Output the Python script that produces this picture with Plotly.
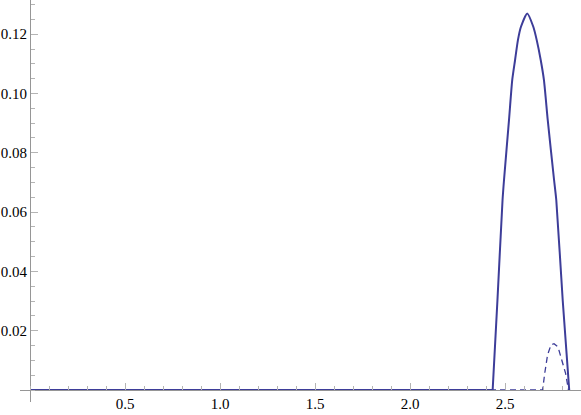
import plotly.graph_objects as go

# values
flat_x = [0.0, 2.435]
flat_y = [0.0, 0.0]

hump_x = [2.435, 2.460, 2.487, 2.495, 2.521, 2.538, 2.553, 2.568, 2.584, 2.617,
          2.649, 2.667, 2.688, 2.705, 2.725, 2.758, 2.770, 2.804, 2.838]
hump_y = [0.0, 0.030, 0.064, 0.071, 0.091, 0.1045, 0.1113, 0.118, 0.1225, 0.127,
          0.1225, 0.118, 0.1113, 0.1045, 0.091, 0.071, 0.064, 0.030, 0.0]

dashed_x = [0.0, 2.698, 2.709, 2.724, 2.742, 2.758, 2.779, 2.800, 2.819, 2.834]
dashed_y = [0.0, 0.0, 0.0056, 0.0118, 0.0152, 0.0156, 0.0145, 0.0101, 0.0056, 0.0]

x_ticks = [0.5, 1.0, 1.5, 2.0, 2.5]
x_labels = ["0.5", "1.0", "1.5", "2.0", "2.5"]
y_ticks = [0.02, 0.04, 0.06, 0.08, 0.10, 0.12]
y_labels = ["0.02", "0.04", "0.06", "0.08", "0.10", "0.12"]

line_color = "rgb(61,61,153)"
axis_color = "rgb(150,150,150)"
tick_color = "rgb(180,180,180)"
font = dict(family="Liberation Serif", size=15, color="black")

fig = go.Figure()
fig.add_trace(go.Scatter(x=dashed_x, y=dashed_y, mode="lines",
                         line=dict(color=line_color, width=1.3, dash="6px,4px")))
fig.add_trace(go.Scatter(x=flat_x, y=flat_y, mode="lines",
                         line=dict(color=line_color, width=2)))
fig.add_trace(go.Scatter(x=hump_x, y=hump_y, mode="lines",
                         line=dict(color=line_color, width=2, shape="spline", smoothing=0.6)))

x_min, x_max = -10 / 190, 551 / 190
y_min, y_max = -12 / 2965, 390 / 2965

fig.update_layout(
    width=581, height=415,
    margin=dict(l=20, r=0, t=0, b=13),
    paper_bgcolor="white", plot_bgcolor="white",
    showlegend=False,
    font=font,
    xaxis=dict(
        range=[x_min, x_max], anchor="free", position=12 / 402, automargin=False,
        showgrid=False, zeroline=False,
        showline=True, linecolor=axis_color, linewidth=1,
        tickmode="array", tickvals=x_ticks, ticktext=x_labels,
        ticks="inside", ticklen=7, tickcolor=tick_color, tickwidth=1,
        minor=dict(tick0=0, dtick=0.1, ticks="inside", ticklen=4,
                   tickcolor=tick_color, showgrid=False),
        tickfont=font,
    ),
    yaxis=dict(
        range=[y_min, y_max], anchor="free", position=10 / 561, automargin=False,
        showgrid=False, zeroline=False,
        showline=True, linecolor=axis_color, linewidth=1,
        tickmode="array", tickvals=y_ticks, ticktext=y_labels,
        ticks="inside", ticklen=7, tickcolor=tick_color, tickwidth=1,
        minor=dict(tick0=0, dtick=0.005, ticks="inside", ticklen=4,
                   tickcolor=tick_color, showgrid=False),
        tickfont=font,
    ),
)

# the page's default body margin would shift the chart by 8px
fig.write_html("out.html", config={"displayModeBar": False},
               post_script="document.body.style.margin='0';")
